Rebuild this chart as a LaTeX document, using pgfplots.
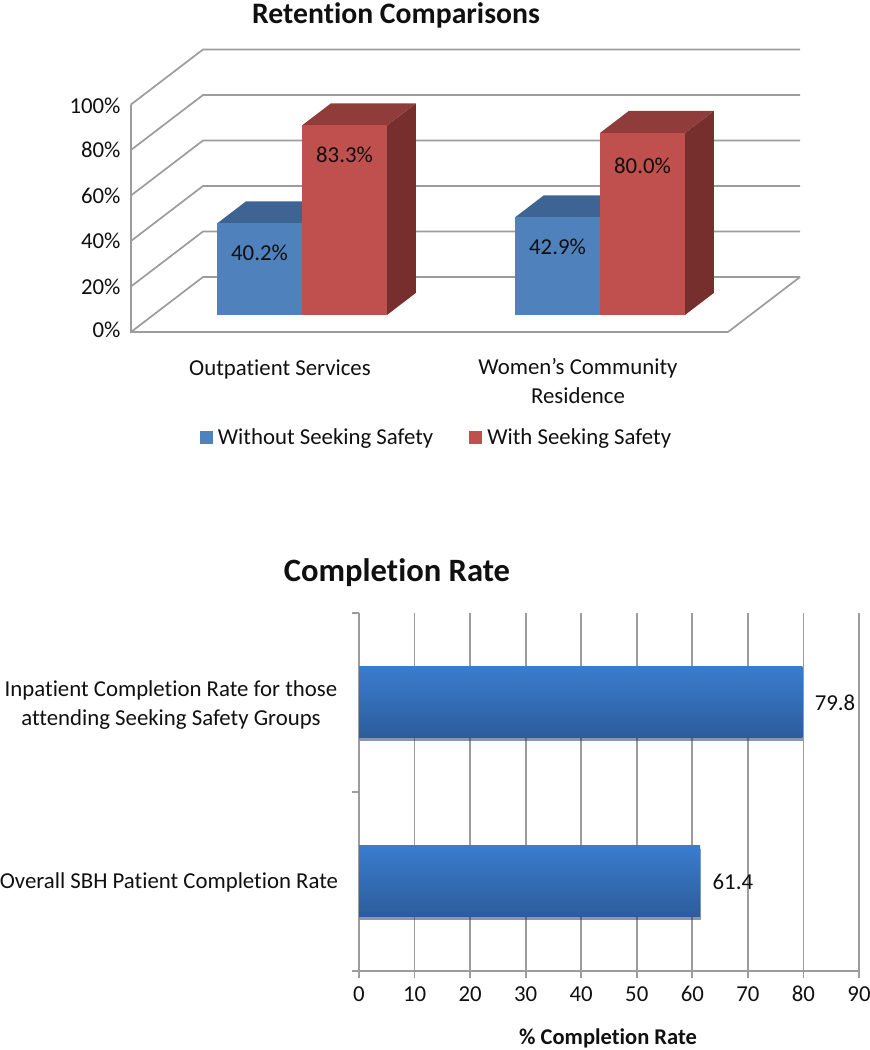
\documentclass[border=0pt]{standalone}
\usepackage{fontspec}
\setmainfont{Carlito}[Ligatures=NoCommon]
\usepackage{pgfplots}
\pgfplotsset{compat=1.18}
\usetikzlibrary{shadows}

\definecolor{BlueFront}{HTML}{4F81BD}
\definecolor{BlueTop}{HTML}{3D6492}
\definecolor{RedFront}{HTML}{C0504D}
\definecolor{RedTop}{HTML}{8F3C3A}
\definecolor{RedSide}{HTML}{772F2D}
\definecolor{GridGray}{HTML}{9C9C9C}
\definecolor{BarTop}{HTML}{3A7CCD}
\definecolor{BarBottom}{HTML}{2C5C9C}
\definecolor{Ink}{HTML}{101010}

% depth of the bars on the floor of the 3d box
\def\yf{0.31}
\def\yb{0.71}
% #1 left, #2 right, #3 value, #4 front, #5 top, #6 side
\newcommand{\threedbar}[6]{
  \addplot3[fill=#6,draw=none,forget plot] coordinates {(#2,\yf,0) (#2,\yb,0) (#2,\yb,#3) (#2,\yf,#3)};
  \addplot3[fill=#5,draw=none,forget plot] coordinates {(#1,\yf,#3) (#2,\yf,#3) (#2,\yb,#3) (#1,\yb,#3)};
  \addplot3[fill=#4,draw=none,forget plot] coordinates {(#1,\yf,0) (#2,\yf,0) (#2,\yf,#3) (#1,\yf,#3)};
}
% one grid level: side wall and back wall
\newcommand{\gridlevel}[1]{
  \addplot3[GridGray,line width=1.7pt,forget plot] coordinates {(0,0,#1) (0,1,#1) (597,1,#1)};
}
\newcommand{\bodyfont}{\fontsize{22.8}{29}\selectfont}

\pgfplotsset{
  flatbar/.style={xbar,bar width=71pt,bar shift=0pt,draw=none,forget plot,
    top color=BarTop,bottom color=BarBottom,
    drop shadow={shadow xshift=0.5pt,shadow yshift=-3pt,opacity=0.3,fill=black},
    nodes near coords={\pgfmathprintnumber[fixed,precision=1]{\pgfplotspointmeta}},
    nodes near coords style={anchor=west,xshift=9pt,font=\bodyfont,text=Ink},
  },
}

\begin{document}
\begin{tikzpicture}[x=1pt,y=1pt,every node/.style={text=Ink}]
\useasboundingbox (0,0) rectangle (870,1050);

\begin{axis}[
  at={(131pt,718pt)}, anchor=origin,
  x={(1pt,0pt)}, y={(72pt,55pt)}, z={(0pt,2.275pt)},
  xmin=0, xmax=597, ymin=0, ymax=1, zmin=0, zmax=100,
  clip=false,
  hide x axis, hide y axis,
  ztick={0,20,40,60,80,100},
  zticklabels={0\%,20\%,40\%,60\%,80\%,100\%},
  major tick length=0pt,
  z axis line style={draw=none},
  tick label style={font=\bodyfont,text=Ink},
  zticklabel style={xshift=-7pt,yshift=8pt},
  legend columns=2,
  legend style={draw=none,fill=none,font=\bodyfont,
    at={(0.5,-0.5)},anchor=center,xshift=-29pt,yshift=36pt,
    /tikz/every odd column/.append style={column sep=4pt},
    /tikz/every even column/.append style={column sep=34pt}},
  legend cell align=left,
]
  \gridlevel{0}
  \gridlevel{20}
  \gridlevel{40}
  \gridlevel{60}
  \gridlevel{80}
  \gridlevel{100}
  \addplot3[GridGray,line width=1.7pt,forget plot] coordinates {(0,0,100) (0,0,0) (597,0,0) (597,1,0)};

  \threedbar{63.7}{148.7}{40.2}{BlueFront}{BlueTop}{BlueTop}
  \threedbar{148.7}{233.7}{83.3}{RedFront}{RedTop}{RedSide}
  \threedbar{361.7}{446.7}{42.9}{BlueFront}{BlueTop}{BlueTop}
  \threedbar{446.7}{531.7}{80.0}{RedFront}{RedTop}{RedSide}

  \addlegendimage{only marks,mark=square*,mark size=6pt,color=BlueFront}
  \addlegendentry{Without Seeking Safety}
  \addlegendimage{only marks,mark=square*,mark size=6pt,color=RedFront}
  \addlegendentry{With Seeking Safety}

  \node[font=\bodyfont] at (axis cs:106.2,\yf,27.2) {40.2\%};
  \node[font=\bodyfont] at (axis cs:191.2,\yf,70.3) {83.3\%};
  \node[font=\bodyfont] at (axis cs:404.2,\yf,29.9) {42.9\%};
  \node[font=\bodyfont] at (axis cs:489.2,\yf,65.5) {80.0\%};
\end{axis}

\begin{axis}[
  at={(359pt,79pt)}, anchor=south west,
  scale only axis, width=500pt, height=358pt,
  xmin=0, xmax=90, ymin=0, ymax=2,
  xtick={0,10,...,90}, ytick={0,1,2}, yticklabels={},
  axis lines=left, axis line style={-,GridGray,line width=1.7pt},
  xmajorgrids, grid style={GridGray,line width=1.7pt},
  tick style={GridGray,line width=1.7pt},
  tick align=outside, major tick length=7pt,
  tick label style={font=\bodyfont,text=Ink},
  xticklabel style={yshift=0pt},
  typeset ticklabels with strut,
  /pgf/number format/assume math mode=true,
  clip=false,
]
  \addplot[flatbar] coordinates {(79.8,1.5)};
  \addplot[flatbar] coordinates {(61.4,0.5)};
\end{axis}

% texts, placed from the top left corner
\begin{scope}[yshift=1050pt,y=-1pt]
\node[font=\fontsize{29.7}{34}\selectfont\bfseries] at (396,15) {Retention Comparisons};
\node[font=\bodyfont] at (280,370) {Outpatient Services};
\node[font=\bodyfont,align=center] at (578,381.5) {Women’s Community\\Residence};
\node[font=\fontsize{32.6}{38}\selectfont\bfseries] at (397,573) {Completion Rate};
\node[font=\bodyfont,align=center] at (171,705) {Inpatient Completion Rate for those\\attending Seeking Safety Groups};
\node[font=\bodyfont] at (169,882) {Overall SBH Patient Completion Rate};
\node[font=\fontsize{22.5}{26}\selectfont\bfseries] at (608,1038) {\% Completion Rate};
\end{scope}
\end{tikzpicture}
\end{document}
